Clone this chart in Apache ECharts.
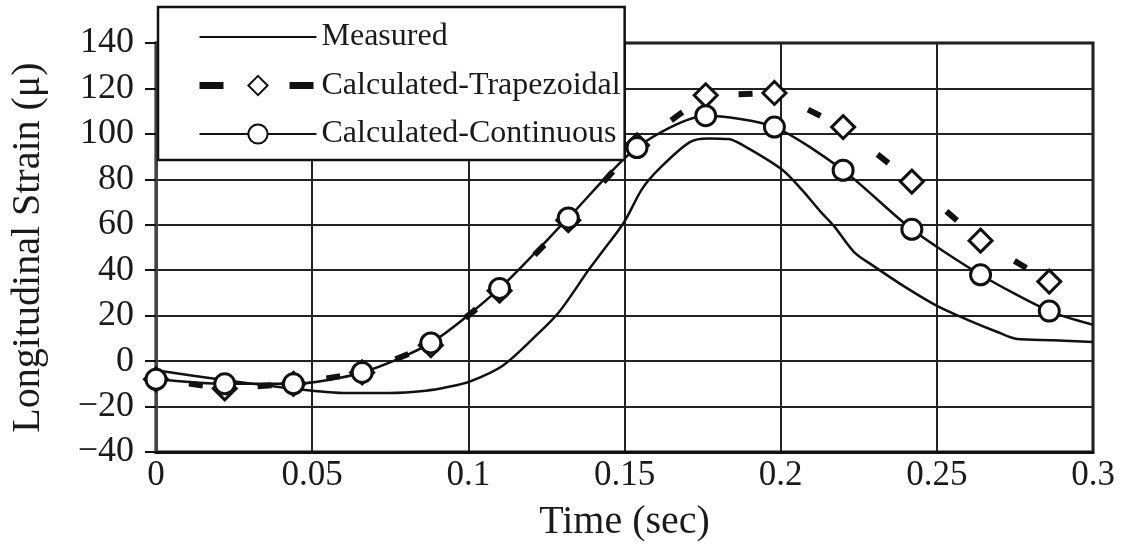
<!DOCTYPE html>
<html>
<head>
<meta charset="utf-8">
<script src="https://cdn.jsdelivr.net/npm/echarts@6/dist/echarts.min.js"></script>
<style>
  html, body { margin: 0; padding: 0; background: #fff; }
  #chart { width: 1126px; height: 549px; }
</style>
</head>
<body>
<div id="chart"></div>
<script>
// Measured strain trace (time in seconds, strain in microstrain)
const measuredTime = [0, 0.02, 0.04, 0.05, 0.06, 0.075, 0.0864, 0.093, 0.1004, 0.111, 0.1215,
  0.129, 0.1387, 0.1428, 0.1498, 0.1556, 0.161, 0.1709, 0.1769, 0.1833, 0.1884, 0.2002,
  0.2066, 0.2129, 0.2171, 0.2235, 0.2298, 0.2394, 0.2502, 0.2608, 0.2694, 0.2757, 0.2872, 0.3];
const measuredStrain = [-4, -8, -11.5, -13, -14, -14, -13, -11.5, -9, -2, 11,
  21.5, 40.5, 48, 61, 75.7, 84.5, 96.4, 98, 97.7, 94.6, 84.5,
  75.7, 65.6, 59.4, 48, 41.8, 33, 24.2, 17.6, 12.8, 9.7, 9.2, 8.4];

// Calculated responses at the model time steps
const calcTime = [0, 0.022, 0.044, 0.066, 0.088, 0.110, 0.132, 0.154, 0.176, 0.198, 0.220, 0.242, 0.264, 0.286];
const trapezoidalStrain = [-8, -12, -10, -5, 7, 31, 62, 95, 117, 118, 103, 79, 53, 35];
const continuousStrain = [-8, -10, -10, -5, 8, 32, 63, 94, 108, 103, 84, 58, 38, 22];
// continuous curve carries on to the end of the record
const continuousTail = [0.3, 16];

const xTicks = ['0', '0.05', '0.1', '0.15', '0.2', '0.25', '0.3'];

const SERIF = '"Liberation Serif", "DejaVu Serif", serif';
const INK = '#111';

const pairs = (xs, ys) => xs.map((x, i) => [x, ys[i]]);

const continuousData = pairs(calcTime, continuousStrain);
continuousData.push({ value: continuousTail, symbol: 'none' });

// one short dash per trapezoidal segment
const trapSegments = calcTime.slice(0, -1).map((t, i) =>
  [t, trapezoidalStrain[i], calcTime[i + 1], trapezoidalStrain[i + 1]]);

const chart = echarts.init(document.getElementById('chart'));

chart.setOption({
  animation: false,
  backgroundColor: '#fff',
  grid: {
    left: 152, right: 33, top: 43, bottom: 97,
    show: true, borderColor: INK, borderWidth: 3
  },
  legend: {
    orient: 'vertical',
    left: 158, top: 7,
    z: 20,
    backgroundColor: '#fff',
    borderColor: INK, borderWidth: 2.5,
    padding: [12, 4, 8, 38],
    itemWidth: 117, itemHeight: 24, itemGap: 12.5,
    selectedMode: false,
    textStyle: { fontFamily: SERIF, fontSize: 32, lineHeight: 36, color: '#1a1a1a' },
    data: [
      { name: 'Measured', itemStyle: { opacity: 0 } },
      { name: 'Calculated-Trapezoidal',
        lineStyle: { type: [24, 66], width: 7, color: INK, opacity: 1, cap: 'butt' } },
      { name: 'Calculated-Continuous' }
    ]
  },
  xAxis: {
    type: 'value', min: 0, max: 0.3, interval: 0.05,
    name: 'Time (sec)', nameLocation: 'middle', nameGap: 50,
    nameTextStyle: { fontFamily: SERIF, fontSize: 40, color: '#1a1a1a' },
    axisLine: { show: true, onZero: false, lineStyle: { color: INK, width: 3 } },
    axisTick: { show: false },
    splitLine: { show: true, lineStyle: { color: '#222', width: 2 } },
    axisLabel: {
      fontFamily: SERIF, fontSize: 35, color: '#1a1a1a', margin: 6,
      formatter: v => xTicks[Math.round(v / 0.05)]
    }
  },
  yAxis: {
    type: 'value', min: -40, max: 140, interval: 20,
    name: 'Longitudinal Strain (\u03bc)', nameLocation: 'middle', nameGap: 108,
    nameTextStyle: { fontFamily: SERIF, fontSize: 40, color: '#1a1a1a' },
    axisLine: { show: true, onZero: false, lineStyle: { color: '#444', width: 3 } },
    axisTick: { show: true, inside: false, length: 11, lineStyle: { color: INK, width: 2 } },
    splitLine: { show: true, lineStyle: { color: '#222', width: 2 } },
    axisLabel: {
      fontFamily: SERIF, fontSize: 36, color: '#1a1a1a', margin: 22,
      formatter: v => (v < 0 ? '\u2212' + Math.abs(v) : String(v))
    }
  },
  series: [
    {
      name: 'Measured',
      type: 'line',
      data: pairs(measuredTime, measuredStrain),
      smooth: 0.3,
      symbol: 'none',
      lineStyle: { color: INK, width: 2.5 },
      itemStyle: { color: INK },
      z: 3
    },
    {
      name: 'trap-dashes',
      type: 'custom',
      data: trapSegments,
      z: 3,
      renderItem: (params, api) => {
        const p0 = api.coord([api.value(0), api.value(1)]);
        const p1 = api.coord([api.value(2), api.value(3)]);
        const dx = p1[0] - p0[0], dy = p1[1] - p0[1];
        const len = Math.hypot(dx, dy) || 1;
        const ux = dx / len, uy = dy / len;
        const cx = p0[0] + dx * 0.58, cy = p0[1] + dy * 0.58;
        const h = 7;
        return {
          type: 'line',
          shape: { x1: cx - ux * h, y1: cy - uy * h, x2: cx + ux * h, y2: cy + uy * h },
          style: { stroke: INK, lineWidth: 6, lineCap: 'butt' }
        };
      }
    },
    {
      name: 'Calculated-Trapezoidal',
      type: 'line',
      data: pairs(calcTime, trapezoidalStrain),
      symbol: 'diamond',
      symbolSize: 23,
      showAllSymbol: true,
      lineStyle: { color: INK, width: 0, opacity: 0 },
      itemStyle: { color: '#fff', borderColor: INK, borderWidth: 3 },
      z: 4
    },
    {
      name: 'Calculated-Continuous',
      type: 'line',
      data: continuousData,
      smooth: 0.25,
      symbol: 'circle',
      symbolSize: 20,
      showAllSymbol: true,
      lineStyle: { color: INK, width: 2.5 },
      itemStyle: { color: '#fff', borderColor: INK, borderWidth: 3 },
      z: 5
    }
  ]
});
</script>
</body>
</html>
